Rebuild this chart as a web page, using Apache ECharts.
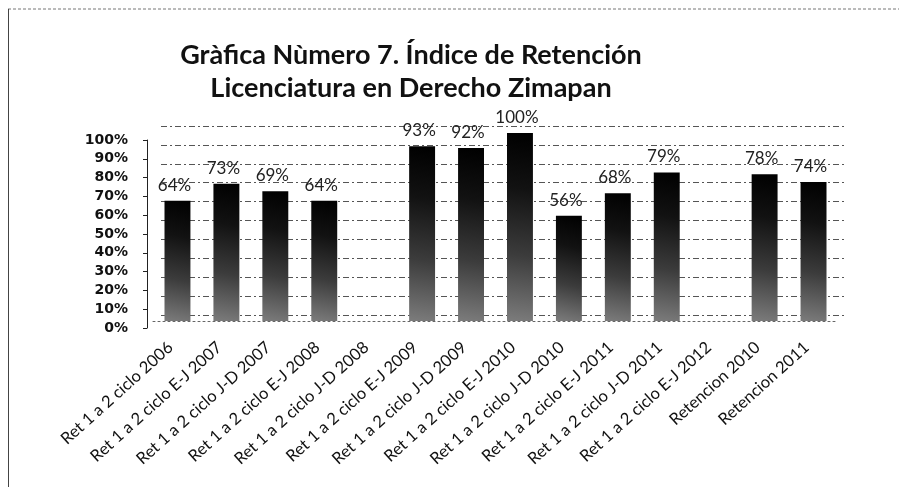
<!DOCTYPE html>
<html>
<head>
<meta charset="utf-8">
<script src="https://cdn.jsdelivr.net/npm/echarts@6/dist/echarts.min.js"></script>
<style>
  html, body { margin: 0; padding: 0; background: #fff; }
  #chart { width: 899px; height: 487px; }
</style>
</head>
<body>
<div id="chart"></div>
<script>
// Retention index per enrolment cycle (percent); null = no data for that cycle
const categories = [
  'Ret 1 a 2 ciclo 2006',
  'Ret 1 a 2 ciclo E-J 2007',
  'Ret 1 a 2 ciclo J-D 2007',
  'Ret 1 a 2 ciclo E-J 2008',
  'Ret 1 a 2 ciclo J-D 2008',
  'Ret 1 a 2 ciclo E-J 2009',
  'Ret 1 a 2 ciclo J-D 2009',
  'Ret 1 a 2 ciclo E-J 2010',
  'Ret 1 a 2 ciclo J-D 2010',
  'Ret 1 a 2 ciclo E-J 2011',
  'Ret 1 a 2 ciclo J-D 2011',
  'Ret 1 a 2 ciclo E-J 2012',
  'Retencion 2010',
  'Retencion 2011'
];
const retention = [64, 73, 69, 64, null, 93, 92, 100, 56, 68, 79, null, 78, 74];
const yTicks = { min: 0, max: 100, interval: 10 };
const titleText = 'Gràfica Nùmero 7. Índice de Retención\nLicenciatura en Derecho Zimapan';

const chart = echarts.init(document.getElementById('chart'), null, { renderer: 'canvas' });

// dark bar face, greyer towards the lower-left corner
const barFill = new echarts.graphic.LinearGradient(0, 1, 1, 0, [
  { offset: 0, color: '#7c7c7c' },
  { offset: 0.35, color: '#3c3c3c' },
  { offset: 0.7, color: '#121212' },
  { offset: 1, color: '#000' }
]);

const percentAxis = (gridIndex, extra) => Object.assign({
  type: 'value',
  gridIndex: gridIndex,
  min: yTicks.min,
  max: yTicks.max,
  interval: yTicks.interval
}, extra);

chart.setOption({
  backgroundColor: '#fff',
  animation: false,
  title: {
    text: titleText,
    left: 406,
    top: 34,
    textAlign: 'center',
    textStyle: {
      fontFamily: 'Lato',
      fontWeight: 'bold',
      fontSize: 27,
      lineHeight: 33,
      color: '#111'
    }
  },
  graphic: [
    { type: 'line', shape: { x1: 8, y1: 9, x2: 899, y2: 9 },
      style: { stroke: '#777', lineWidth: 1, lineDash: [3, 2] } },
    { type: 'line', shape: { x1: 8.5, y1: 9, x2: 8.5, y2: 487 },
      style: { stroke: '#444', lineWidth: 1 } }
  ],
  grid: [
    // bars (front plane)
    { left: 153, right: 61, top: 133, bottom: 166 },
    // back wall with gridlines
    { left: 161, right: 52, top: 126, bottom: 172 },
    // value axis with its labels
    { left: 147, right: 61, top: 140, bottom: 159 },
    // slanted category labels, set slightly left of the bars
    { left: 146, right: 68, top: 133, bottom: 166 }
  ],
  xAxis: [
    {
      type: 'category',
      gridIndex: 0,
      data: categories,
      axisLine: { show: true, lineStyle: { color: '#666', type: [2, 3] } },
      axisTick: { show: false },
      axisLabel: { show: false }
    },
    { type: 'category', gridIndex: 1, data: categories, show: false },
    { type: 'category', gridIndex: 2, data: categories, show: false },
    {
      type: 'category',
      gridIndex: 3,
      data: categories,
      axisLine: { show: false },
      axisTick: { show: false },
      axisLabel: {
        interval: 0,
        rotate: 42,
        fontFamily: 'Lato',
        fontSize: 16.5,
        color: '#111',
        margin: 24
      }
    }
  ],
  yAxis: [
    percentAxis(0, { show: false }),
    percentAxis(1, {
      axisLine: { show: false },
      axisTick: { show: false },
      axisLabel: { show: false },
      splitLine: { show: true, lineStyle: { color: '#555', type: [6, 3, 2, 3], width: 1 } }
    }),
    percentAxis(2, {
      axisLine: { show: true, lineStyle: { color: '#222', width: 1 } },
      axisTick: { show: true, length: 4, lineStyle: { color: '#222' } },
      splitLine: { show: false },
      axisLabel: {
        formatter: '{value}%',
        fontFamily: 'DejaVu Sans',
        fontWeight: 'bold',
        fontSize: 14,
        color: '#111',
        margin: 19
      }
    }),
    percentAxis(3, { show: false })
  ],
  series: [
    {
      type: 'bar',
      xAxisIndex: 0,
      yAxisIndex: 0,
      data: retention,
      barWidth: '53%',
      itemStyle: { color: barFill },
      label: {
        show: true,
        position: 'top',
        distance: 7,
        formatter: '{c}%',
        fontFamily: 'Lato',
        fontSize: 17,
        color: '#222',
        offset: [-3, 0]
      },
      z: 3
    }
  ]
});
</script>
</body>
</html>
